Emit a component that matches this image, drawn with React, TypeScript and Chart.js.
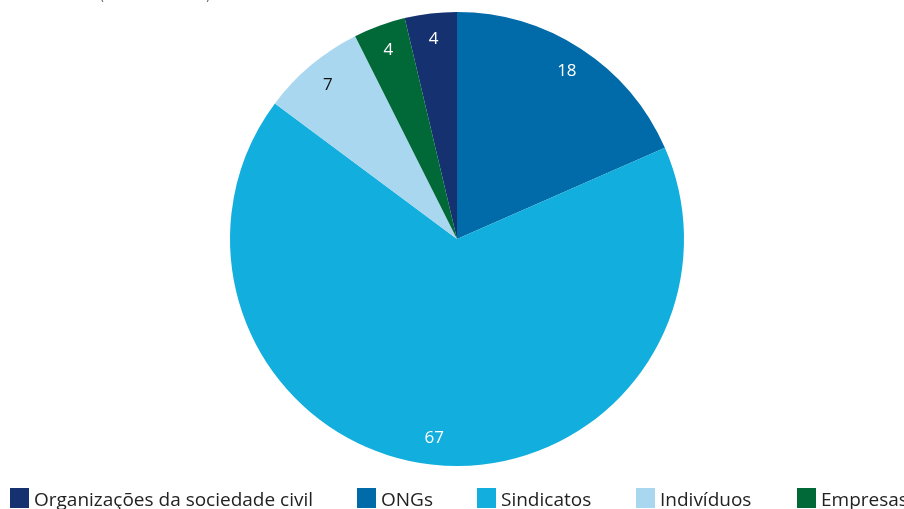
import React, { useEffect, useRef } from "react";
import { Chart, registerables } from "chart.js";

Chart.register(...registerables);

const categories = ["Organizações da sociedade civil", "ONGs", "Sindicatos", "Indivíduos", "Empresas"];
const values = [3.7, 18.4, 66.7, 7.4, 3.7];
const colors = ["#15316F", "#006BA8", "#12AEDD", "#A9D7F0", "#006937"];
const labelColors = ["#ffffff", "#ffffff", "#ffffff", "#111111", "#ffffff"];
const subtitle = "(em percentagem)";

const FONT = "'Open Sans', 'Noto Sans', sans-serif";

const total = values.reduce((a, b) => a + b, 0);

const sliceLabels = {
  id: "sliceLabels",
  afterDatasetsDraw(chart: any) {
    const ctx = chart.ctx;
    const meta = chart.getDatasetMeta(0);
    ctx.save();
    ctx.font = `17px ${FONT}`;
    ctx.textAlign = "center";
    ctx.textBaseline = "middle";
    meta.data.forEach((arc: any, i: number) => {
      const p = arc.getProps(["x", "y", "startAngle", "endAngle", "outerRadius"], true);
      const mid = (p.startAngle + p.endAngle) / 2;
      const r = p.outerRadius * 0.885;
      ctx.fillStyle = labelColors[i];
      ctx.fillText(String(Math.round(values[i])), p.x + Math.cos(mid) * r, p.y + Math.sin(mid) * r);
    });
    ctx.restore();
  },
};

const customLegend = {
  id: "customLegend",
  afterDraw(chart: any) {
    const ctx = chart.ctx;
    const boxX = [10, 357, 477, 636, 797];
    ctx.save();
    ctx.font = `19px ${FONT}`;
    ctx.textBaseline = "alphabetic";
    ctx.textAlign = "left";
    categories.forEach((c, i) => {
      ctx.fillStyle = colors[i];
      ctx.fillRect(boxX[i], 488, 19, 20);
      ctx.fillStyle = "#222222";
      ctx.fillText(c, boxX[i] + 24, 506);
    });
    ctx.restore();

    // subtitle, mostly above the visible area: only the bottoms of the brackets show
    ctx.save();
    ctx.beginPath();
    ctx.rect(96, 0, 12, 4);
    ctx.rect(200, 0, 14, 4);
    ctx.clip();
    ctx.fillStyle = "#666666";
    ctx.font = `18px ${FONT}`;
    ctx.textAlign = "left";
    ctx.textBaseline = "alphabetic";
    ctx.fillText(subtitle, 100, -1, 110);
    ctx.restore();
  },
};

export default function App() {
  const ref = useRef<HTMLCanvasElement | null>(null);
  useEffect(() => {
    if (!ref.current) return;
    const chart = new Chart(ref.current, {
      type: "pie",
      data: {
        labels: categories,
        datasets: [
          {
            data: values,
            backgroundColor: colors,
            borderWidth: 0,
          },
        ],
      },
      options: {
        responsive: false,
        animation: false,
        rotation: -(values[0] / total) * 360,
        layout: { padding: { top: 12, bottom: 43, left: 10, right: 0 } },
        plugins: {
          legend: { display: false },
          tooltip: { enabled: false },
        },
      },
      plugins: [sliceLabels, customLegend],
    });
    return () => chart.destroy();
  }, []);
  return (
    <div style={{ position: "absolute", left: 0, top: 0, width: 904, height: 509, background: "#fff" }}>
      <canvas ref={ref} width={904} height={509} />
    </div>
  );
}
